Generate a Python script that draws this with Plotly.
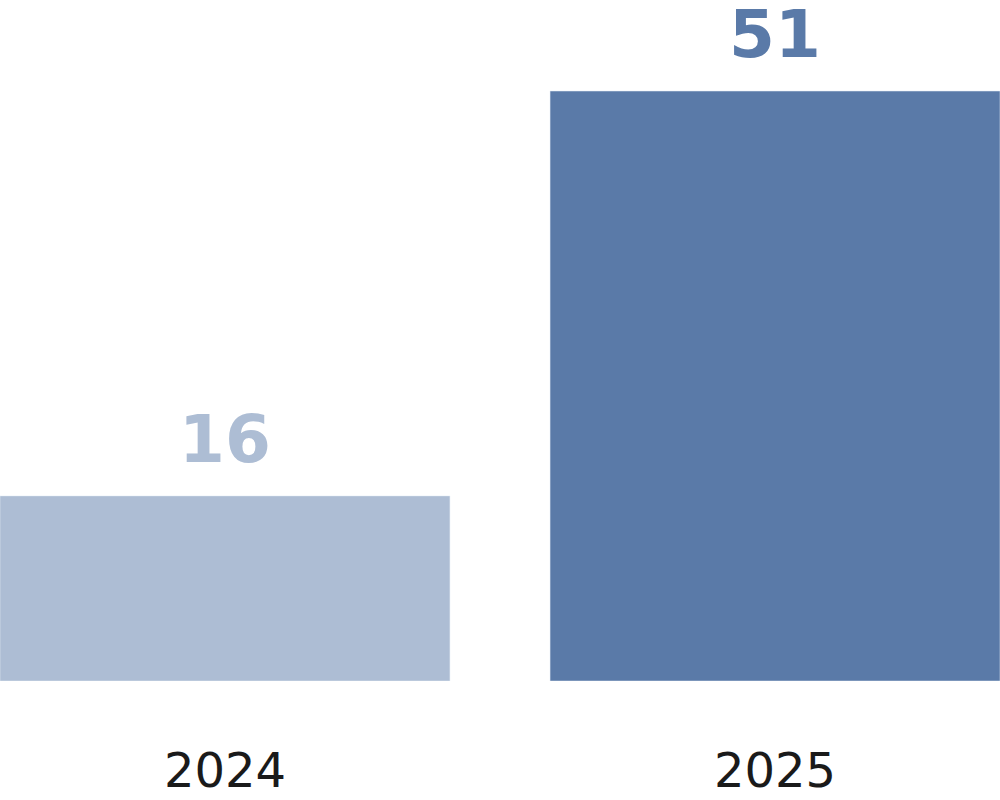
import plotly.graph_objects as go

years = ["2024", "2025"]
counts = [16, 51]
bar_colors = ["#adbdd4", "#5a7aa8"]

fig = go.Figure()

fig.add_trace(go.Bar(
    x=years,
    y=counts,
    width=0.818,
    marker_color=bar_colors,
    hoverinfo="skip",
))

# value labels above the bars (x given as category index)
for i, (val, col) in enumerate(zip(counts, bar_colors)):
    fig.add_annotation(
        x=i, y=val,
        xref="x", yref="y",
        text=f"<b>{val}</b>",
        showarrow=False,
        yanchor="bottom",
        yshift=16,
        font={"family": "DejaVu Sans", "size": 66, "color": col},
    )

fig.update_layout(
    width=1000,
    height=800,
    margin={"l": 0, "r": 0, "t": 0, "b": 119},
    paper_bgcolor="white",
    plot_bgcolor="white",
    showlegend=False,
    xaxis={
        "type": "category",
        "range": [-0.409, 1.409],
        "showgrid": False,
        "zeroline": False,
        "showline": False,
        "ticks": "outside",
        "ticklen": 47,
        "tickcolor": "white",
        "tickfont": {"family": "DejaVu Sans", "size": 48, "color": "#1a1a1a"},
    },
    yaxis={
        "range": [0, 58.87],
        "visible": False,
    },
)

fig.write_html("out.html", config={"displayModeBar": False},
               post_script="document.body.style.margin='0';")
